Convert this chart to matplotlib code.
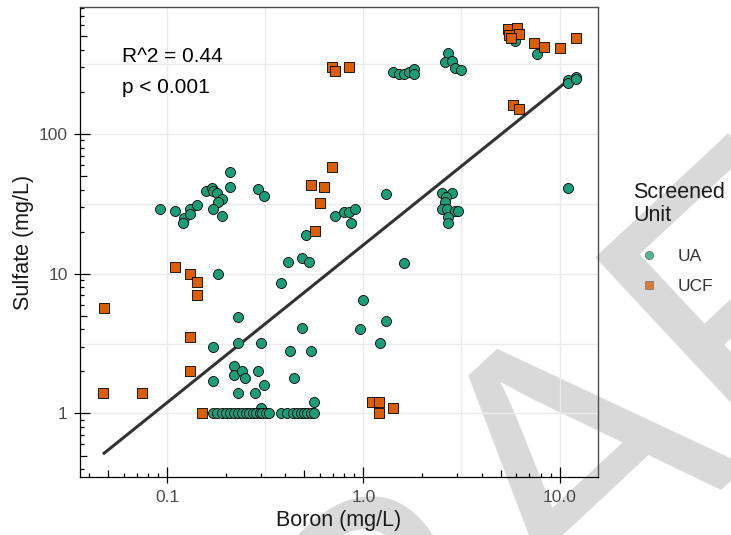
import numpy as np
import matplotlib
matplotlib.use('Agg')
import matplotlib.pyplot as plt
from matplotlib.lines import Line2D
from matplotlib.ticker import FixedLocator, NullFormatter

plt.rcParams['font.family'] = ['Liberation Sans', 'DejaVu Sans']

# ---- data ----
UA_BORON = [
    0.092, 0.110, 0.121, 0.120, 0.130, 0.130, 0.141, 0.158, 0.170, 0.172,
    0.180, 0.191, 0.181, 0.171, 0.191, 0.210, 0.210, 0.291, 0.310,
    0.512, 0.720, 0.800, 0.845, 0.906, 0.861, 1.31,
    0.411, 0.489, 0.526, 0.380, 0.181, 0.230, 0.171, 0.230, 0.300, 0.489,
    0.422, 0.543, 0.442, 0.171, 0.220, 0.220, 0.240, 0.250, 0.291, 0.310,
    0.230, 0.280, 0.300, 0.562,
    0.171, 0.180, 0.191, 0.200, 0.210, 0.220, 0.230, 0.240, 0.251, 0.260,
    0.272, 0.285, 0.297, 0.305, 0.320, 0.331,
    0.382, 0.410, 0.440, 0.460, 0.479, 0.500, 0.518, 0.540, 0.560,
    1.61, 1.00, 1.31, 0.965, 1.21,
    2.53, 2.82, 2.63, 2.61, 2.51, 2.68, 2.92, 3.02, 2.71, 2.70,
    1.41, 1.52, 1.61, 1.71, 1.81, 1.81,
    2.71, 2.61, 2.84, 2.92, 3.14,
    5.94, 7.66,
    11.06, 12.1, 11.1, 12.1, 11.06,
]
UA_SULFATE = [
    29.0, 28.2, 25.0, 23.2, 29.0, 26.7, 31.2, 39.2, 41.0, 39.2,
    38.1, 34.2, 32.5, 29.0, 25.9, 53.5, 42.0, 40.3, 36.0,
    19.0, 25.9, 27.8, 27.8, 29.0, 23.2, 37.0,
    12.1, 13.0, 12.1, 8.6, 10.0, 4.9, 3.0, 3.2, 3.2, 4.1,
    2.8, 2.8, 1.8, 1.7, 2.2, 1.9, 2.0, 1.8, 2.0, 1.6,
    1.4, 1.4, 1.1, 1.2,
    1.0, 1.0, 1.0, 1.0, 1.0, 1.0, 1.0, 1.0, 1.0, 1.0,
    1.0, 1.0, 1.0, 1.0, 1.0, 1.0,
    1.0, 1.0, 1.0, 1.0, 1.0, 1.0, 1.0, 1.0, 1.0,
    12.0, 6.5, 4.6, 4.0, 3.2,
    37.7, 38.0, 35.6, 32.8, 29.1, 29.0, 28.3, 28.2, 25.6, 23.0,
    280, 269, 269, 280, 292, 269,
    383, 330, 334, 299, 288,
    464, 373,
    244, 258, 231, 249, 41.0,
]
UCF_BORON = [
    0.695, 0.714, 0.840,
    0.538, 0.630, 0.692, 0.598, 0.564,
    0.110, 0.130, 0.141, 0.141, 0.0477, 0.130, 0.130, 0.047, 0.074, 0.151,
    1.10, 1.20, 1.20, 1.41,
    5.43, 6.10, 5.54, 6.23, 5.65, 7.37, 8.34, 10.0, 12.1, 5.82, 6.23,
]
UCF_SULFATE = [
    304, 282, 304,
    43.2, 42.0, 58.4, 32.3, 20.2,
    11.1, 10.0, 8.7, 7.1, 5.7, 3.5, 2.0, 1.4, 1.4, 1.0,
    1.2, 1.2, 1.0, 1.1,
    562, 571, 512, 520, 485, 447, 423, 411, 485, 161, 151,
]

# log-log fit: sulfate = FIT_COEF * boron ** FIT_SLOPE
FIT_COEF = 16.1
FIT_SLOPE = 1.128
R2_TEXT = 'R^2 = 0.44'
P_TEXT = 'p < 0.001'

X_TICKS = [0.1, 1.0, 10.0]
X_TICK_LABELS = ['0.1', '1.0', '10.0']
Y_TICKS = [1, 10, 100]
Y_TICK_LABELS = ['1', '10', '100']

GREEN = '#1b9e77'
ORANGE = '#d95f02'
TICK_TXT = '#4d4d4d'

fig = plt.figure(figsize=(7.31, 5.35), dpi=100)

# DRAFT watermark behind everything
fig.text(165 / 731, 1 - 980 / 535, 'DRAFT', fontsize=268, color='#d9d9d9',
         rotation=43, rotation_mode='anchor', ha='left', va='baseline', zorder=-5)

ax = fig.add_axes([80 / 731, 1 - 477 / 535, 518 / 731, 470 / 535])
ax.set_facecolor('none')
ax.set_xscale('log')
ax.set_yscale('log')
ax.set_xlim(0.0359, 15.7)
ax.set_ylim(0.351, 812)

# grid: decades + half decades (ggplot style)
for v in 10 ** np.arange(-1.5, 1.6, 0.5):
    ax.axvline(v, color='#ebebeb', lw=1.0, zorder=0)
for v in 10 ** np.arange(-0.5, 3.0, 0.5):
    ax.axhline(v, color='#ebebeb', lw=1.0, zorder=0)

# regression line
all_b = np.array(UA_BORON + UCF_BORON)
xs = np.array([all_b.min(), all_b.max()])
ax.plot(xs, FIT_COEF * xs ** FIT_SLOPE, color='#333333', lw=2.2, zorder=2,
        solid_capstyle='butt')

ax.scatter(UA_BORON, UA_SULFATE, s=52, marker='o', c=GREEN,
           edgecolors='black', linewidths=0.6, zorder=3)
ax.scatter(UCF_BORON, UCF_SULFATE, s=42, marker='s', c=ORANGE,
           edgecolors='black', linewidths=0.6, zorder=4)

ax.text(0.081, 0.883, R2_TEXT, transform=ax.transAxes, fontsize=15,
        va='baseline', color='black')
ax.text(0.081, 0.817, P_TEXT, transform=ax.transAxes, fontsize=15,
        va='baseline', color='black')

# ticks: outward majors with labels, inward log ticks
ax.set_xticks(X_TICKS, X_TICK_LABELS)
ax.set_yticks(Y_TICKS, Y_TICK_LABELS)
ax.tick_params(which='major', direction='out', length=4.5, width=0.9,
               color='black', labelsize=12.5, labelcolor=TICK_TXT, pad=4.5)


def log_ticks(lo, hi):
    locs = []
    for k in range(-3, 4):
        for m in range(1, 10):
            v = m * 10.0 ** k
            if lo <= v <= hi:
                locs.append(v)
    return locs


ax.tick_params(which='minor', direction='in', length=3, width=0.9, color='black')
for axis, (lo, hi) in ((ax.xaxis, ax.get_xlim()), (ax.yaxis, ax.get_ylim())):
    locs = log_ticks(lo, hi)
    axis.set_minor_locator(FixedLocator(locs))
    axis.set_minor_formatter(NullFormatter())
    axis.remove_overlapping_locs = False
    for t, v in zip(axis.get_minor_ticks(len(locs)), locs):
        m = int(round(v / 10 ** np.floor(np.log10(v) + 1e-9)))
        t.tick1line.set_markersize(7.5 if m == 1 else (5.2 if m == 5 else 3.0))

for s in ('left', 'bottom'):
    ax.spines[s].set_color('black')
    ax.spines[s].set_linewidth(0.9)
for s in ('top', 'right'):
    ax.spines[s].set_color('#4d4d4d')
    ax.spines[s].set_linewidth(1.0)

ax.set_xlabel('Boron (mg/L)', fontsize=15.5, color='#1a1a1a', labelpad=4)
ax.set_ylabel('Sulfate (mg/L)', fontsize=15.5, color='#1a1a1a', labelpad=3)

handles = [
    Line2D([], [], ls='none', marker='o', markersize=6, markerfacecolor=GREEN,
           markeredgecolor='#555555', markeredgewidth=0.5, alpha=0.75, label='UA'),
    Line2D([], [], ls='none', marker='s', markersize=5.5, markerfacecolor=ORANGE,
           markeredgecolor='#555555', markeredgewidth=0.5, alpha=0.75, label='UCF'),
]
leg = ax.legend(handles=handles, title='Screened\nUnit', loc='upper left',
                bbox_to_anchor=(633 / 731, 1 - 182 / 535), bbox_transform=fig.transFigure,
                frameon=False, fontsize=12.5, title_fontsize=15.5, alignment='left',
                borderpad=0, borderaxespad=0, handlelength=1.84, handletextpad=0.75,
                labelspacing=0.9)
for txt in leg.get_texts():
    txt.set_color('#333333')
leg.get_title().set_color('#1a1a1a')
leg.get_title().set_linespacing(1.12)
leg._legend_box.sep = 0.9 * 12.5 + 5

fig.savefig('out.png', dpi=100, facecolor='white')
